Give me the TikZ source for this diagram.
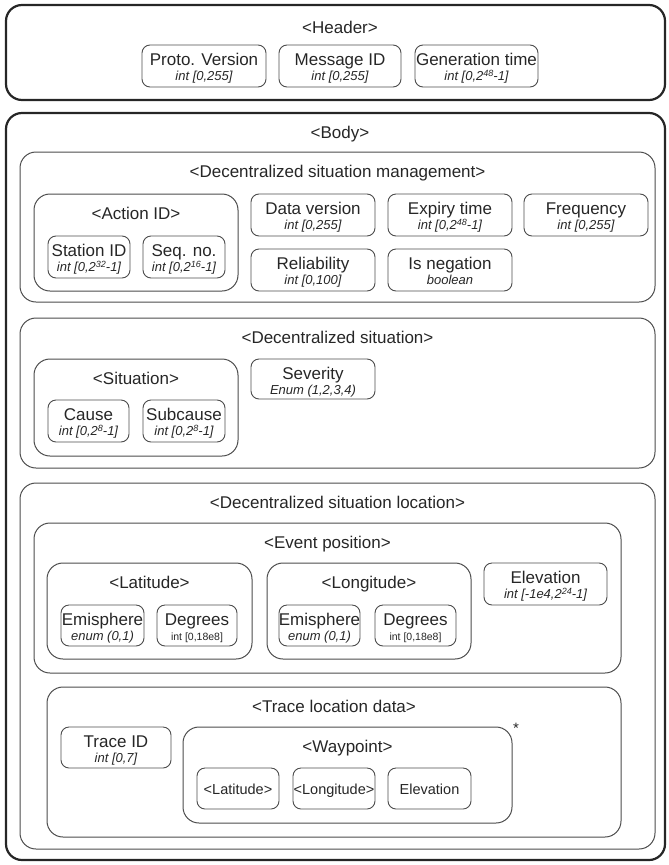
\documentclass[tikz,border=0pt]{standalone}
\usepackage{fontspec}
\setmainfont{Liberation Sans}
\usetikzlibrary{fit}
\tikzset{
  outerbox/.style={draw=black!85, line width=2.2pt, rounded corners=16pt, inner sep=0pt},
  groupbox/.style={draw=black!70, line width=1pt, rounded corners=16pt, inner sep=0pt},
  itembox/.style={draw=black!70, line width=0.9pt, rounded corners=8pt, inner sep=0pt},
  ttl/.style={font=\fontsize{17}{19}\selectfont, anchor=base, inner sep=0pt, text=black!85},
  mtxt/.style={font=\fontsize{17}{19}\selectfont, anchor=base, inner sep=0pt, text=black!85},
  stxt/.style={font=\fontsize{13}{15}\selectfont\itshape, anchor=base, inner sep=0pt, text=black!85},
  wtxt/.style={font=\fontsize{14.5}{16}\selectfont, anchor=base, inner sep=0pt, text=black!85},
}
\newcommand\mygroup[6]{%
  \node[groupbox, fit={(#2,#3) (#4,#5)}] (#1) {};
  \node[ttl] (#1-t) at ({(#2+#4)/2},{#3+25}) {#6};}
\newcommand\myitem[7]{%
  \node[itembox, fit={(#2,#3) (#4,#5)}] (#1) {};
  \node[mtxt] (#1-m) at ({(#2+#4)/2},{#3+20}) {#6};
  \node[stxt] (#1-s) at ({(#2+#4)/2},{#3+35}) {#7};}
\newcommand\mysingle[6]{%
  \node[itembox, fit={(#2,#3) (#4,#5)}] (#1) {};
  \node[wtxt] (#1-m) at ({(#2+#4)/2},{#3+26}) {#6};}
\newcommand\supnum[1]{\raisebox{3.2pt}{\fontsize{9}{10}\selectfont #1}}
\begin{document}
\begin{tikzpicture}[x=1pt,y=-1pt]
\useasboundingbox (0,0) rectangle (669,865);
% Header
\node[outerbox, fit={(6,5) (665,100)}] (header) {};
\node[ttl] (header-t) at (340,33) {<Header>};
\myitem{proto}{142}{45}{266}{87}{Proto. Version}{int [0,255]}
\myitem{msgid}{279}{45}{401}{87}{Message ID}{int [0,255]}
\myitem{gentime}{415}{45}{538}{87}{Generation time}{int [0,2\supnum{48}-1]}
% Body
\node[outerbox, fit={(6,113) (665,860)}] (body) {};
\node[ttl] (body-t) at (340,138) {<Body>};
% DSM
\mygroup{dsm}{20}{152}{655}{302}{<Decentralized situation management>}
\mygroup{actid}{34}{194}{238}{291}{<Action ID>}
\myitem{station}{48}{236}{130}{278}{Station ID}{int [0,2\supnum{32}-1]}
\myitem{seqno}{143}{236}{225}{278}{Seq. no.}{int [0,2\supnum{16}-1]}
\myitem{dataver}{251}{194}{375}{236}{Data version}{int [0,255]}
\myitem{expiry}{388}{194}{512}{236}{Expiry time}{int [0,2\supnum{48}-1]}
\myitem{freq}{524}{194}{648}{236}{Frequency}{int [0,255]}
\myitem{reliab}{251}{249}{375}{291}{Reliability}{int [0,100]}
\myitem{isneg}{388}{249}{512}{291}{Is negation}{boolean}
% DS
\mygroup{ds}{20}{318}{655}{468}{<Decentralized situation>}
\mygroup{situation}{34}{359}{238}{456}{<Situation>}
\myitem{cause}{48}{400}{129}{442}{Cause}{int [0,2\supnum{8}-1]}
\myitem{subcause}{143}{400}{225}{442}{Subcause}{int [0,2\supnum{8}-1]}
\myitem{severity}{251}{359}{375}{399}{Severity}{Enum (1,2,3,4)}
% DSL
\mygroup{dsl}{20}{483}{655}{849}{<Decentralized situation location>}
\mygroup{evpos}{34}{523}{621}{673}{<Event position>}
\mygroup{lat}{47}{563}{252}{659}{<Latitude>}
\myitem{latem}{61}{605}{144}{646}{Emisphere}{enum (0,1)}
\myitem{latdeg}{157}{605}{237}{646}{Degrees}{\upshape\fontsize{10.5}{12}\selectfont int [0,18e8]}
\mygroup{lon}{267}{563}{471}{659}{<Longitude>}
\myitem{lonem}{279}{605}{360}{646}{Emisphere}{enum (0,1)}
\myitem{londeg}{375}{605}{456}{646}{Degrees}{\upshape\fontsize{10.5}{12}\selectfont int [0,18e8]}
\myitem{elev}{484}{563}{607}{605}{Elevation}{int [-1e4,2\supnum{24}-1]}
\mygroup{trace}{47}{687}{621}{837}{<Trace location data>}
\myitem{traceid}{61}{727}{171}{768}{Trace ID}{int [0,7]}
\mygroup{waypoint}{183}{727}{512}{823}{<Waypoint>}
\mysingle{wlat}{197}{768}{279}{809}{<Latitude>}
\mysingle{wlon}{293}{768}{375}{809}{<Longitude>}
\mysingle{wele}{388}{768}{471}{809}{Elevation}
\node[font=\fontsize{15}{16}\selectfont, inner sep=0pt, text=black!85] (star) at (516,728) {*};
\end{tikzpicture}
\end{document}
